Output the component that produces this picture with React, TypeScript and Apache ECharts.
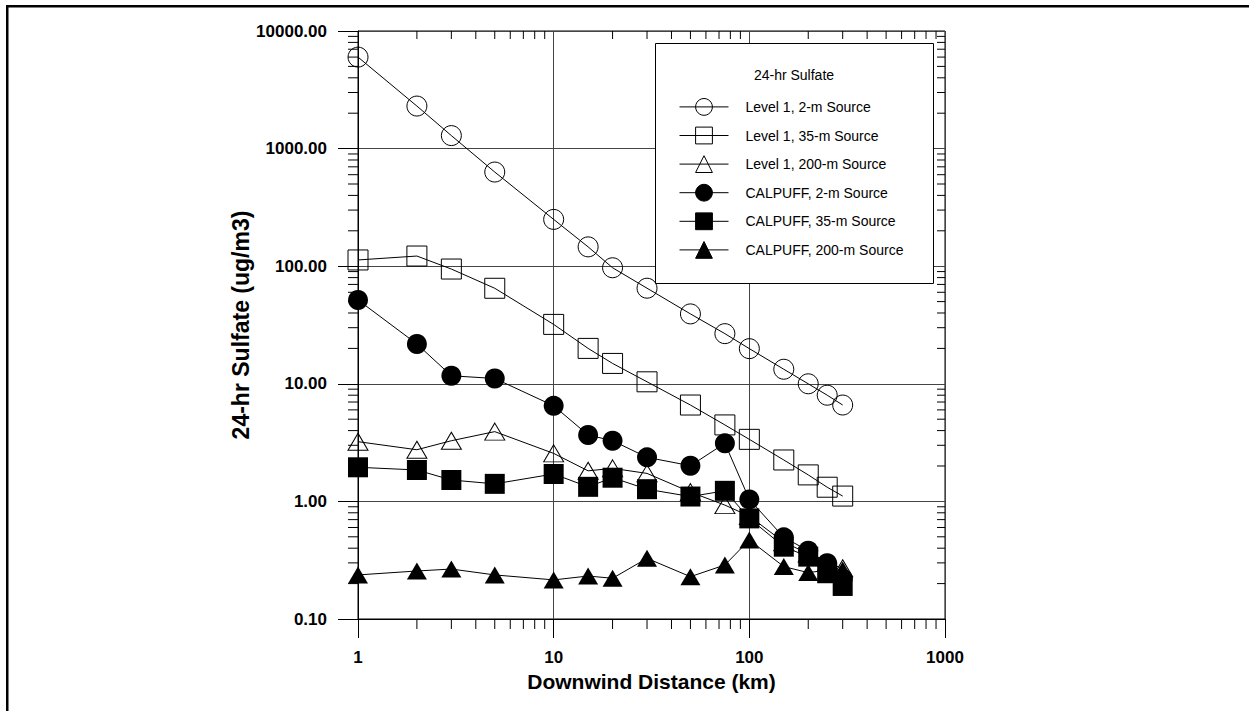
import React, { useEffect, useRef } from "react";
import * as echarts from "echarts";

const distances = [1, 2, 3, 5, 10, 15, 20, 30, 50, 75, 100, 150, 200, 250, 300];
const level1_2m = [6000, 2300, 1290, 632, 250, 146, 97, 65, 39.3, 26.7, 19.9, 13.3, 10.0, 8.0, 6.6];
const level1_35m = [113, 122, 94.6, 64.9, 32, 20, 14.9, 10.4, 6.6, 4.47, 3.37, 2.25, 1.68, 1.32, 1.11];
const level1_200m = [3.22, 2.75, 3.28, 3.92, 2.56, 1.82, 1.91, 1.73, 1.2, 0.93, 0.75, 0.45, 0.36, 0.3, 0.27];
const calpuff_2m = [51.6, 21.8, 11.7, 11.1, 6.5, 3.67, 3.28, 2.37, 2.01, 3.12, 1.04, 0.495, 0.381, 0.298, 0.22];
const calpuff_35m = [1.95, 1.85, 1.52, 1.41, 1.71, 1.33, 1.59, 1.27, 1.1, 1.23, 0.717, 0.412, 0.339, 0.245, 0.191];
const calpuff_200m = [0.237, 0.256, 0.266, 0.237, 0.215, 0.232, 0.222, 0.328, 0.229, 0.288, 0.47, 0.279, 0.248, 0.26, 0.261];

const seriesNames = [
  "Level 1, 2-m Source",
  "Level 1, 35-m Source",
  "Level 1, 200-m Source",
  "CALPUFF, 2-m Source",
  "CALPUFF, 35-m Source",
  "CALPUFF, 200-m Source",
];
const legendTitle = "24-hr Sulfate";
const xTitle = "Downwind Distance (km)";
const yTitle = "24-hr Sulfate (ug/m3)";

const yDecades = [0.1, 1, 10, 100, 1000];
const xDecades = [1, 10, 100];
const minorMultipliers = [2, 3, 4, 5, 6, 7, 8, 9];

const FONT = "'Liberation Sans', Arial, Helvetica, sans-serif";

export default function App() {
  const ref = useRef<HTMLDivElement>(null);

  useEffect(() => {
    document.body.style.margin = "0";
    if (!ref.current) return;
    const chart = echarts.init(ref.current, undefined, { renderer: "svg" });

    const pairs = (vals: number[]) => distances.map((d, i) => [d, vals[i]]);

    // minor tick data: [x, y, side]  side: 0 left,1 right,2 bottom,3 top
    const tickData: number[][] = [];
    yDecades.forEach((d) =>
      minorMultipliers.forEach((m) => {
        const v = d * m;
        tickData.push([1, v, 0]);
        tickData.push([1000, v, 1]);
      })
    );
    xDecades.forEach((d) =>
      minorMultipliers.forEach((m) => {
        const v = d * m;
        tickData.push([v, 0.1, 2]);
        tickData.push([v, 10000, 3]);
      })
    );

    const openStyle = { color: "rgba(0,0,0,0)", borderColor: "#000", borderWidth: 1 };
    const filledStyle = { color: "#000", borderColor: "#000", borderWidth: 0 };

    const mk = (name: string, vals: number[], symbol: string, size: any, filled: boolean, z: number) => ({
      name,
      type: "line",
      data: pairs(vals),
      symbol,
      symbolSize: size,
      showSymbol: true,
      showAllSymbol: true,
      lineStyle: { color: "#000", width: 1 },
      itemStyle: filled ? filledStyle : openStyle,
      z,
      emphasis: { disabled: true },
    });

    const option: any = {
      animation: false,
      backgroundColor: "#fff",
      textStyle: { fontFamily: FONT },
      grid: {
        left: 358,
        top: 31,
        width: 587,
        height: 588,
        show: true,
        borderColor: "#000",
        borderWidth: 1,
        backgroundColor: "transparent",
      },
      xAxis: {
        type: "log",
        logBase: 10,
        min: 1,
        max: 1000,
        name: xTitle,
        nameLocation: "middle",
        nameGap: 52,
        nameTextStyle: { fontFamily: FONT, fontWeight: "bold", fontSize: 21, color: "#000" },
        axisLine: { show: true, lineStyle: { color: "#000", width: 1 } },
        axisTick: { show: true, inside: false, length: 19, lineStyle: { color: "#000", width: 1 } },
        axisLabel: {
          margin: 30,
          fontFamily: FONT,
          fontWeight: "bold",
          fontSize: 17,
          color: "#000",
          formatter: (v: number) => String(Math.round(v)),
        },
        splitLine: { show: true, lineStyle: { color: "#444", width: 1 } },
        minorTick: { show: false },
      },
      yAxis: {
        type: "log",
        logBase: 10,
        min: 0.1,
        max: 10000,
        name: yTitle,
        nameLocation: "middle",
        nameGap: 98,
        nameTextStyle: { fontFamily: FONT, fontWeight: "bold", fontSize: 23, color: "#000" },
        axisLine: { show: true, lineStyle: { color: "#000", width: 1 } },
        axisTick: { show: true, inside: false, length: 20, lineStyle: { color: "#000", width: 1 } },
        axisLabel: {
          margin: 31,
          fontFamily: FONT,
          fontWeight: "bold",
          fontSize: 17,
          color: "#000",
          formatter: (v: number) => v.toFixed(2),
        },
        splitLine: { show: true, lineStyle: { color: "#444", width: 1 } },
      },
      legend: {
        show: true,
        orient: "vertical",
        left: 679,
        top: 98,
        padding: 0,
        itemWidth: 49,
        itemHeight: 21,
        itemGap: 10.8,
        z: 6,
        selectedMode: false,
        data: seriesNames,
        textStyle: { fontFamily: FONT, fontSize: 14, color: "#000", padding: [0, 0, 0, 12] },
        itemStyle: { borderWidth: 1, borderColor: "#000" },
        lineStyle: { color: "#000", width: 1 },
      },
      graphic: [
        { type: "rect", z: 10, shape: { x: 6, y: 5, width: 1243, height: 2.5 }, style: { fill: "#000" } },
        { type: "rect", z: 10, shape: { x: 6, y: 5, width: 2.5, height: 706 }, style: { fill: "#000" } },
        {
          type: "rect",
          z: 3,
          shape: { x: 655.5, y: 43.5, width: 278, height: 240 },
          style: { fill: "#fff", stroke: "#000", lineWidth: 1 },
        },
        {
          type: "text",
          z: 6,
          x: 794,
          y: 75,
          style: {
            text: legendTitle,
            font: `14px ${FONT}`,
            fill: "#000",
            align: "center",
            verticalAlign: "middle",
            textAlign: "center",
            textVerticalAlign: "middle",
          },
        },
      ],
      series: [
        mk(seriesNames[0], level1_2m, "circle", 20, false, 2),
        mk(seriesNames[1], level1_35m, "rect", 20, false, 2),
        mk(seriesNames[2], level1_200m, "triangle", [20, 17], false, 2),
        mk(seriesNames[3], calpuff_2m, "circle", 20, true, 2),
        mk(seriesNames[4], calpuff_35m, "rect", 20, true, 2),
        mk(seriesNames[5], calpuff_200m, "triangle", [20, 17], true, 2),
        {
          name: "minorTicks",
          type: "custom",
          silent: true,
          z: 1,
          clip: false,
          data: tickData,
          encode: { x: 0, y: 1 },
          renderItem: (params: any, api: any) => {
            const side = api.value(2);
            const p = api.coord([api.value(0), api.value(1)]);
            let x2 = p[0];
            let y2 = p[1];
            if (side === 0) x2 = p[0] - 10;
            else if (side === 1) x2 = p[0] - 8;
            else if (side === 2) y2 = p[1] + 10;
            else y2 = p[1] + 8;
            return {
              type: "line",
              shape: { x1: p[0], y1: p[1], x2, y2 },
              style: { stroke: "#000", lineWidth: 1 },
            };
          },
        },
      ],
    };

    chart.setOption(option);
    return () => chart.dispose();
  }, []);

  return (
    <div
      ref={ref}
      style={{ position: "absolute", left: 0, top: 0, width: 1249, height: 711, background: "#fff" }}
    />
  );
}
